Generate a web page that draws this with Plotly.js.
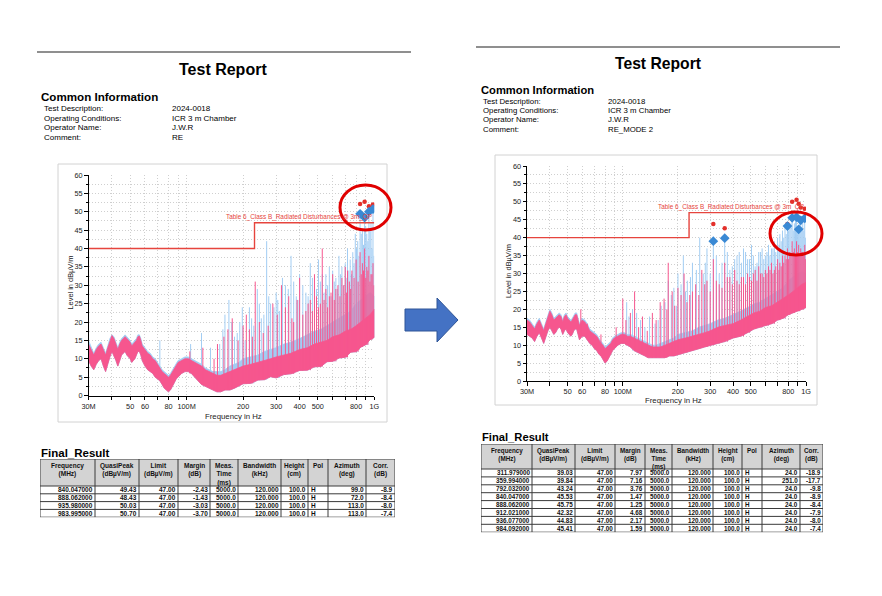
<!DOCTYPE html>
<html>
<head>
<meta charset="utf-8">
<script src="https://cdn.plot.ly/plotly-3.0.1.min.js"></script>
<style>
html,body{margin:0;padding:0;background:#fff;overflow:hidden;}
#chart{width:882px;height:596px;}
</style>
</head>
<body>
<div id="chart"></div>
<script>
// ================= DATA =================
const reportTitle = 'Test Report';
const infoHeading = 'Common Information';
const resultHeading = 'Final_Result';
const infoLabels = ['Test Description:', 'Operating Conditions:', 'Operator Name:', 'Comment:'];
const infoValuesMode1 = ['2024-0018', 'ICR 3 m Chamber', 'J.W.R', 'RE'];
const infoValuesMode2 = ['2024-0018', 'ICR 3 m Chamber', 'J.W.R', 'RE_MODE 2'];
const xAxisTitle = 'Frequency in Hz';
const yAxisTitle = 'Level in dBµV/m';
const limitLabel = 'Table 6_Class B_Radiated Disturbances @ 3m_QP';

const xTickValsMHz = [30,40,50,60,70,80,90,100,200,300,400,500,600,700,800,900,1000];
const xTickText = ['30M','','50','60','','80','','100M','200','300','400','500','','','800','','1G'];

const limitFreqMHz = [30, 230, 230, 1000];
const limitLevel = [40, 40, 47, 47];

// frequencies at which the noise-floor band was read (MHz)
const bandFreqMHz = [30,31,32,33,34,35,36,37,38,39,
  40,41,42,43,44,45,46,47,48,49,
  50,51,52,53,54,55,56,57,58,60,
  62,64,66,68,70,72,74,76,78,80,
  82,84,86,88,90,94,98,102,106,110,
  115,120,126,132,138,145,152,160,170,180,
  190,200,220,240,260,280,300,330,360,400,
  440,480,520,560,600,650,700,750,800,850,
  900,950,1000];

// ---- Report 1 (RE) ----
const m1PinkLow = [9.5,8,7,8.5,9.5,10,8,6.5,8.5,10.5,
  12,11,9.5,8,9.5,11,11.5,12,11,10.5,
  10,9,9.5,10,11,12,12,11,9.5,8,
  7,6.5,6,5,4.5,4,3,2,1.5,1,
  1.5,2.5,3.5,4.5,5,6,6.5,6.5,6,5,
  4,3,2.5,2,1.5,1,1,1.5,1.5,2,
  2.5,3.2,3.3,4.2,4.3,5.1,4.8,5.7,5.9,6.8,
  6.9,7.8,7.9,9.2,9.3,10.2,10.4,11.8,11.9,13.2,
  13.8,15.2,15.8];
const m1PinkHigh = [14,12.5,11,12.5,13.5,14,12.5,11,13,15,
  16.3,15.5,14,12.5,14,15,15.5,16,15.5,15,
  14.5,13.5,14,14.5,15,16,16.2,15,13.5,12.5,
  11.5,11,10,9.5,8.5,7.5,6.5,6,5.5,5,
  5.5,6.5,7.5,8.5,9,9.5,10,10,9.5,9,
  8.5,8,7,6.5,6,5.5,5.5,6,6.5,7,
  7.5,8,8.5,9,9.5,10,10.5,11,11.5,12.5,
  13,14,14.5,15,16,16.5,17.5,18,19,20,
  21,22,23.5];
const m1BlueHigh = [15,13,11.5,13,14,14.5,13,11.5,13.5,15.5,
  16.5,16,14.5,13,14.5,15.5,16,16.5,16,15.5,
  15,14,14.5,15,15.5,16.5,16.5,15.5,14,13,
  12,11.5,10.5,10,9,8,7,6.5,6,5.5,
  6,7,8,9,9.5,10,10.5,10.5,10,9.5,
  9,8.5,7.5,7,6.5,6.5,6.5,7,8,8.5,
  9,10,10.5,11,12,12.5,13,14,14.5,15.5,
  16.5,17.5,18,19,20,21,22,23,25,26,
  27,28,27];
const m1BlueSpikeF = [72,105,120,134,150,160,168,180,192,205,216,228,238,250,267,280,300,312,336,360,384,400,432,456,480,504,528,552,576,600,624,648,672,700,720,744,768,792,816,840,864,888,912,936,960,984];
const m1BlueSpikeTop = [15,14,17,13,14,22,26,16,20,15,24,19,29,21,42,25,28,23,30,38,27,33,28,36,30,37,33,33,35,34,32,38,35,36,40,37,39,44,42,49,45,48,44,50,47,51];
const m1BlueMinorF = [156,174,186,198,222,244,258,274,292,306,324,348,372,392,416,444,468,492,516,540,564,588,612,636,660,684,708,732,756,780,804,828,852,876,900,924,948,972,996];
const m1BlueMinorTop = [18,20,17,24,21,25,22,27,24,26,32,29,31,26,30,27,32,29,31,28,30,27,31,29,33,30,32,34,33,36,40,38,44,41,46,42,45,40,38];
const m1PinkSpikeF = [104,122,140,158,175,200,216,232,256,288,320,350,372,400,432,456,480,504,528,552,576,600,640,672,700,720,760,800,840,864,888,912,936,960,984];
const m1PinkSpikeTop = [12,13,10,16,21,19,18,31,17,25,30,27,20,32,23,26,33,24,40,29,27,33,30,32,35,34,34,37,39,36,40,35,38,33,36];
const m1PinkMinorF = [146,166,188,208,224,244,272,304,336,364,388,416,444,468,492,516,540,564,588,612,624,656,688,712,736,748,780,820,852,876,900,924,948,972,996];
const m1PinkMinorTop = [14,18,15,22,16,20,19,22,24,21,26,22,25,23,27,25,26,24,28,26,29,27,30,28,31,29,32,31,33,34,32,34,31,33,30];

const m1FreqMHz = [840.047, 888.062, 935.98, 983.995];
const m1QuasiPeak = [49.43, 48.43, 50.03, 50.70];
const m1PreviewPeak = [52.1, 52.7, 51.5, 52.0];
const m1Limit = [47, 47, 47, 47];
const m1Margin = [-2.43, -1.43, -3.03, -3.70];
const m1MeasTime = [5000, 5000, 5000, 5000];
const m1Bandwidth = [120, 120, 120, 120];
const m1Height = [100, 100, 100, 100];
const m1Pol = ['H', 'H', 'H', 'H'];
const m1Azimuth = [99, 72, 113, 113];
const m1Corr = [-8.9, -8.4, -8.0, -7.4];

// ---- Report 2 (RE_MODE 2) ----
const m2PinkLow = [13,12.5,12,11,12.5,13.5,12,10.5,12,14,
  15,14,13,13.5,14.5,15,14.5,13,14,14.5,
  13.5,13,12.5,13,14,14.5,14.5,13,11.5,12.5,
  12.5,11.5,10.5,10,9,8.5,7.5,7,6,5,
  5.5,6.5,7.5,8.5,9,10,10.5,10.5,10,9.5,
  8.5,8,7.5,7,6.5,6.5,6.5,6.5,6.5,7,
  7,7.5,8,8.5,9,9.5,10,10.5,11,12,
  12.5,13.5,14.5,15,15.5,16,17,17.5,18.5,19,
  19.5,20,20.5];
const m2PinkHigh = [17,16.5,15.5,14.5,16,17,15.5,14,16,18,
  19.5,18.5,17,17.5,18,18.5,18,16.5,18,18.5,
  17.5,17,16.5,17,18,18.5,18.5,17,15.5,17,
  16.5,15.5,14,13.5,13,12.5,11.5,10.5,10,9,
  9.5,10,10.5,11.5,12,12.5,13,13,12.5,12.5,
  12,11.5,11,10.5,10,9.5,9.5,9.5,10,10.5,
  11,11.5,12,12.5,13,13.5,14,15,15.5,16,
  17,18,19,19.5,20.5,21,22,23,24,25,
  26,27,27.5];
const m2BlueHigh = [17.5,17,16,15,16.5,17.5,16,14.5,16.5,18.5,
  20,19,17.5,18,18.5,19,18.5,17,18.5,19,
  18,17.5,17,17.5,18.5,19,19,17.5,16,17.5,
  17,16,14.5,14,13.5,13,12,11,10.5,9.5,
  10,10.5,11,12,12.5,13,13.5,13.5,13,13,
  12.5,12,11.5,11,10.5,10,10,10.5,11,11.5,
  12,13,13.5,14,15,15.5,16,17,17.5,18.5,
  19.5,20.5,21.5,22,23,24,25,26,28,29,
  30,30.5,30];
const m2BlueSpikeF = [105,113,125,140,150,162,177,190,200,214,225,240,263,275,288,312,336,360,384,408,432,456,480,504,528,552,576,600,624,648,672,700,720,744,768,792,816,840,864,888,912,936,960,984];
const m2BlueSpikeTop = [22,20,17,18,16,21,28,26,30,35,28,33,40,30,37,39,30,40,31,34,36,37,34,38,32,36,37,35,38,37,39,40,41,42,43,43,44,46,44,46,43,45,44,46];
const m2BlueMinorF = [108,119,132,156,170,184,196,208,220,234,252,282,300,324,348,372,396,420,444,468,492,516,540,564,588,612,636,660,684,712,732,756,780,804,828,852,876,900,924,948,972,996];
const m2BlueMinorTop = [18,19,15,17,22,24,21,27,25,29,31,33,30,35,33,36,32,35,33,36,34,35,33,36,34,36,35,37,36,38,39,40,41,42,44,42,45,43,44,43,42,40];
const m2PinkSpikeF = [59,100,110,116,128,145,160,168,177,186,200,216,232,250,270,288,312,336,360,384,408,432,456,480,504,528,552,576,600,624,648,672,700,720,744,768,792,816,840,864,888,912,936,960,984];
const m2PinkSpikeTop = [20,23,19,25,18,19,22,23,33,25,26,30,24,27,31,28,34,27,33,29,31,27,29,30,28,31,32,30,31,32,33,31,34,33,35,35,37,36,39,37,39,38,37,36,38];
const m2PinkMinorF = [64,76,92,104,122,136,152,174,192,208,224,240,260,280,300,324,348,372,396,420,444,468,492,516,540,564,588,612,636,660,684,712,732,756,780,804,828,852,876,900,924,948,972,996];
const m2PinkMinorTop = [16,13,15,17,15,14,17,20,21,24,22,25,24,27,25,28,26,29,27,28,29,27,29,30,28,30,29,30,31,30,32,31,32,33,34,34,35,36,35,36,35,36,35,34];

const m2FreqMHz = [311.979, 359.994, 792.032, 840.047, 888.062, 912.021, 936.077, 984.092];
const m2QuasiPeak = [39.03, 39.84, 43.24, 45.53, 45.75, 42.32, 44.83, 45.41];
const m2PreviewPeak = [43.8, 42.6, 43.8, 50.0, 50.6, 49.5, 48.4, 48.1];
const m2Limit = [47, 47, 47, 47, 47, 47, 47, 47];
const m2Margin = [7.97, 7.16, 3.76, 1.47, 1.25, 4.68, 2.17, 1.59];
const m2MeasTime = [5000, 5000, 5000, 5000, 5000, 5000, 5000, 5000];
const m2Bandwidth = [120, 120, 120, 120, 120, 120, 120, 120];
const m2Height = [100, 100, 100, 100, 100, 100, 100, 100];
const m2Pol = ['H', 'H', 'H', 'H', 'H', 'H', 'H', 'H'];
const m2Azimuth = [24, 251, 24, 24, 24, 24, 24, 24];
const m2Corr = [-18.9, -17.7, -9.8, -8.9, -8.4, -7.9, -8.0, -7.4];

const tableHeader = ['Frequency<br>(MHz)', 'QuasiPeak<br>(dBµV/m)', 'Limit<br>(dBµV/m)', 'Margin<br>(dB)',
  'Meas.<br>Time<br>(ms)', 'Bandwidth<br>(kHz)', 'Height<br>(cm)', 'Pol', 'Azimuth<br>(deg)', 'Corr.<br>(dB)'];

// ================= DRAWING =================
const W = 882, H = 596;
const px = x => x / W;
const py = y => 1 - y / H;
const FONT = 'Liberation Sans, Arial, sans-serif';
const BLUE = '#a2cdf3', PINK = '#f6568e', LIMIT = '#e6443d', PEAK = '#e3302b', QP = '#3a89d4';
const GRID = '#cfcfcf';
const GRIDDASH = '1px,2px';

const traces = [], shapes = [], annotations = [];
const layout = {
  width: W, height: H, margin: {l:0, r:0, t:0, b:0, pad:0},
  paper_bgcolor: '#ffffff', plot_bgcolor: 'rgba(0,0,0,0)', showlegend: false,
  font: {family: FONT, color: '#000'}
};

function txt(x, y, text, size, opts) {
  annotations.push(Object.assign({xref:'paper', yref:'paper', x:px(x), y:py(y), text:text, showarrow:false,
    xanchor:'left', yanchor:'middle', font:{family:FONT, size:size, color:'#000'}}, opts || {}));
}

function nearestIdx(f) {
  let best = 0, bd = Infinity;
  for (let i = 0; i < bandFreqMHz.length; i++) {
    const d = Math.abs(Math.log(bandFreqMHz[i]) - Math.log(f));
    if (d < bd) { bd = d; best = i; }
  }
  return best;
}
function spikeXY(freqs, tops, base) {
  const x = [], y = [];
  freqs.forEach((f, i) => { x.push(f, f, null); y.push(base[nearestIdx(f)], tops[i], null); });
  return {x, y};
}
function bandXY(low, high) {
  return {x: bandFreqMHz.concat(bandFreqMHz.slice().reverse()), y: high.concat(low.slice().reverse())};
}

// ---- page headers ----
const pages = [
  {line:[37,411,52], title:[223,69.5,16], head:[38.5,96,11.6], rows:[108.7,118,127.3,137], lx:41.5, vx:170, fs:8, vals:infoValuesMode1, res:[38.5,453,11.5]},
  {line:[476,840,47], title:[658.7,64,15.7], head:[478.5,90,11.2], rows:[101.5,110.7,119.9,129.1], lx:481, vx:605.5, fs:7.8, vals:infoValuesMode2, res:[479.5,437,11.2]}
];
pages.forEach(p => {
  shapes.push({type:'line', xref:'paper', yref:'paper', x0:px(p.line[0]), x1:px(p.line[1]), y0:py(p.line[2]), y1:py(p.line[2]), line:{color:'#6a6a6a', width:1.4}});
  txt(p.title[0], p.title[1], '<b>' + reportTitle + '</b>', p.title[2], {xanchor:'center'});
  txt(p.head[0], p.head[1], '<b>' + infoHeading + '</b>', p.head[2]);
  infoLabels.forEach((l, i) => {
    txt(p.lx, p.rows[i], l, p.fs);
    txt(p.vx, p.rows[i], p.vals[i], p.fs);
  });
  txt(p.res[0], p.res[1], '<b>' + resultHeading + '</b>', p.res[2]);
});

// ---- charts ----
const charts = [
  {sfx:'', plot:[88.5,374.3,175,395.5], frame:[58,387,164,422],
   pinkLow:m1PinkLow, pinkHigh:m1PinkHigh, blueHigh:m1BlueHigh,
   bF:m1BlueSpikeF.concat(m1BlueMinorF), bT:m1BlueSpikeTop.concat(m1BlueMinorTop),
   pF:m1PinkSpikeF.concat(m1PinkMinorF), pT:m1PinkSpikeTop.concat(m1PinkMinorTop),
   qf:m1FreqMHz, qp:m1QuasiPeak, pk:m1PreviewPeak,
   ytitle:[69.5,283], xtitle:[233,416.7], circle:[340,391,185,230]},
  {sfx:'2', plot:[527,806,166,381], frame:[495,817,155,405],
   pinkLow:m2PinkLow, pinkHigh:m2PinkHigh, blueHigh:m2BlueHigh,
   bF:m2BlueSpikeF.concat(m2BlueMinorF), bT:m2BlueSpikeTop.concat(m2BlueMinorTop),
   pF:m2PinkSpikeF.concat(m2PinkMinorF), pT:m2PinkSpikeTop.concat(m2PinkMinorTop),
   qf:m2FreqMHz, qp:m2QuasiPeak, pk:m2PreviewPeak,
   ytitle:[508.5,271.5], xtitle:[673,400.7], circle:[770,822,212,255]}
];
charts.forEach(c => {
  const xa = 'x' + c.sfx, ya = 'y' + c.sfx;
  const common = {type:'scatter', xaxis:xa, yaxis:ya, hoverinfo:'skip', showlegend:false};
  const bb = bandXY(c.pinkLow, c.blueHigh);
  traces.push(Object.assign({}, common, {x:bb.x, y:bb.y, mode:'lines', fill:'toself', fillcolor:BLUE, line:{color:BLUE, width:0.8}}));
  const bs = spikeXY(c.bF, c.bT, c.pinkLow);
  traces.push(Object.assign({}, common, {x:bs.x, y:bs.y, mode:'lines', line:{color:BLUE, width:1}}));
  const pb = bandXY(c.pinkLow, c.pinkHigh);
  traces.push(Object.assign({}, common, {x:pb.x, y:pb.y, mode:'lines', fill:'toself', fillcolor:PINK, line:{color:PINK, width:0.8}}));
  const ps = spikeXY(c.pF, c.pT, c.pinkLow);
  traces.push(Object.assign({}, common, {x:ps.x, y:ps.y, mode:'lines', line:{color:PINK, width:1}}));
  traces.push(Object.assign({}, common, {x:limitFreqMHz, y:limitLevel, mode:'lines', line:{color:LIMIT, width:1.4}}));
  traces.push(Object.assign({}, common, {x:c.qf, y:c.pk, mode:'markers', marker:{symbol:'circle', size:4.5, color:PEAK}}));
  traces.push(Object.assign({}, common, {x:c.qf, y:c.qp, mode:'markers', marker:{symbol:'diamond', size:7.5, color:QP}}));

  const tf = {family:FONT, size:7.3, color:'#222'};
  layout['xaxis' + c.sfx] = {type:'log', domain:[px(c.plot[0]), px(c.plot[1])], range:[Math.log10(30), 3], anchor:ya,
    tickmode:'array', tickvals:xTickValsMHz, ticktext:xTickText, ticks:'outside', ticklen:3.5, tickwidth:1, tickcolor:'#000',
    showline:true, linecolor:'#000', linewidth:1, showgrid:true, gridcolor:GRID, griddash:GRIDDASH, gridwidth:1,
    zeroline:false, tickfont:tf, fixedrange:true};
  layout['yaxis' + c.sfx] = {domain:[py(c.plot[3]), py(c.plot[2])], range:[0, 60], anchor:xa,
    tickmode:'linear', tick0:0, dtick:5, ticks:'outside', ticklen:3.5, tickwidth:1, tickcolor:'#000',
    showline:true, linecolor:'#000', linewidth:1, showgrid:true, gridcolor:GRID, griddash:GRIDDASH, gridwidth:1,
    zeroline:false, tickfont:tf, fixedrange:true,
    minor:{tick0:0, dtick:2.5, ticks:'outside', ticklen:2, tickcolor:'#000', showgrid:true, gridcolor:GRID, griddash:GRIDDASH, gridwidth:1}};

  shapes.push({type:'rect', xref:'paper', yref:'paper', x0:px(c.frame[0]), x1:px(c.frame[1]), y0:py(c.frame[3]), y1:py(c.frame[2]),
    line:{color:'#d2d2d2', width:1}, layer:'below'});
  txt(c.ytitle[0], c.ytitle[1], yAxisTitle, 7.4, {xanchor:'center', textangle:-90, font:{family:FONT, size:7.4, color:'#222'}});
  txt(c.xtitle[0], c.xtitle[1], xAxisTitle, 7.8, {xanchor:'center', font:{family:FONT, size:7.8, color:'#222'}});
  annotations.push({xref:xa, yref:ya, x:3, y:47, xanchor:'right', yanchor:'bottom', text:limitLabel, showarrow:false,
    font:{family:FONT, size:6.4, color:LIMIT}});
  shapes.push({type:'circle', xref:'paper', yref:'paper', x0:px(c.circle[0]), x1:px(c.circle[1]), y0:py(c.circle[3]), y1:py(c.circle[2]),
    line:{color:'#e00000', width:3}});
});

// ---- arrow between the two reports ----
const arrowPts = [[405,309],[437,309],[437,298],[458,320],[437,342],[437,331],[405,331]];
shapes.push({type:'path', xref:'paper', yref:'paper',
  path:'M ' + arrowPts.map(p => px(p[0]) + ',' + py(p[1])).join(' L ') + ' Z',
  fillcolor:'#4472c4', line:{color:'#2f5597', width:1}});

// ---- result tables ----
function fmtRows(f, qp, lim, mar, mt, bw, h, pol, az, corr) {
  return f.map((v, i) => [v.toFixed(6), qp[i].toFixed(2), lim[i].toFixed(2), mar[i].toFixed(2), mt[i].toFixed(1),
    bw[i].toFixed(3), h[i].toFixed(1), pol[i], az[i].toFixed(1), corr[i].toFixed(1)]);
}
const tables = [
  {sfx:'3', x0:40, y0:459, colW:[55,44,39,32,28,43,27,20,38,29], headerH:27, rowH:7.8, fs:6.5,
   rows:fmtRows(m1FreqMHz, m1QuasiPeak, m1Limit, m1Margin, m1MeasTime, m1Bandwidth, m1Height, m1Pol, m1Azimuth, m1Corr)},
  {sfx:'4', x0:481, y0:444, colW:[51,43,40,30,27,41,29,20,38,23], headerH:25, rowH:7.9, fs:6.3,
   rows:fmtRows(m2FreqMHz, m2QuasiPeak, m2Limit, m2Margin, m2MeasTime, m2Bandwidth, m2Height, m2Pol, m2Azimuth, m2Corr)}
];
tables.forEach(t => {
  const xa = 'x' + t.sfx, ya = 'y' + t.sfx;
  const totalW = t.colW.reduce((a, b) => a + b, 0);
  const totalH = t.headerH + t.rows.length * t.rowH;
  layout['xaxis' + t.sfx] = {domain:[px(t.x0), px(t.x0 + totalW)], range:[0, totalW], visible:false, fixedrange:true, anchor:ya};
  layout['yaxis' + t.sfx] = {domain:[py(t.y0 + totalH), py(t.y0)], range:[totalH, 0], visible:false, fixedrange:true, anchor:xa};
  traces.push({type:'scatter', x:[0], y:[0], xaxis:xa, yaxis:ya, mode:'markers', marker:{size:1, opacity:0}, hoverinfo:'skip', showlegend:false});
  shapes.push({type:'rect', xref:xa, yref:ya, x0:0, x1:totalW, y0:0, y1:t.headerH, fillcolor:'#d3d3d3', line:{width:0}, layer:'below'});
  const edges = [0];
  t.colW.forEach(w => edges.push(edges[edges.length - 1] + w));
  edges.forEach(e => shapes.push({type:'line', xref:xa, yref:ya, x0:e, x1:e, y0:0, y1:totalH, line:{color:'#3a3a3a', width:1}}));
  for (let r = 0; r <= t.rows.length; r++) {
    const yy = t.headerH + r * t.rowH;
    shapes.push({type:'line', xref:xa, yref:ya, x0:0, x1:totalW, y0:yy, y1:yy, line:{color:'#3a3a3a', width:1}});
  }
  shapes.push({type:'line', xref:xa, yref:ya, x0:0, x1:totalW, y0:0, y1:0, line:{color:'#3a3a3a', width:1}});
  tableHeader.forEach((h, j) => {
    annotations.push({xref:xa, yref:ya, x:(edges[j] + edges[j + 1]) / 2, y:0.6, xanchor:'center', yanchor:'top', align:'center',
      text:h, showarrow:false, font:{family:FONT, size:t.fs, color:'#111', weight:'bold'}});
  });
  t.rows.forEach((row, r) => {
    row.forEach((v, j) => {
      const left = j === 7;
      annotations.push({xref:xa, yref:ya, x: left ? edges[j] + 1.5 : edges[j + 1] - 1.5,
        y: t.headerH + (r + 0.5) * t.rowH, xanchor: left ? 'left' : 'right', yanchor:'middle',
        text:v, showarrow:false, borderpad:0, font:{family:FONT, size:t.fs, color:'#111', weight:'bold'}});
    });
  });
});

layout.shapes = shapes;
layout.annotations = annotations;
Plotly.newPlot('chart', traces, layout, {staticPlot:true, displayModeBar:false});
</script>
</body>
</html>
